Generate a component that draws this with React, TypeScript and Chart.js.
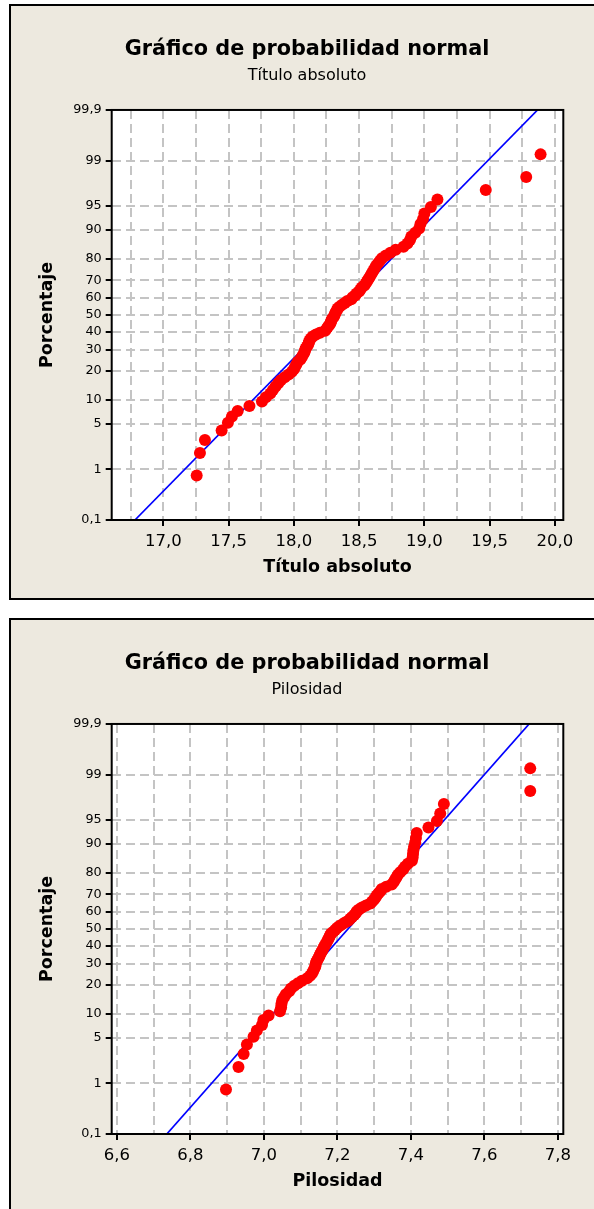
import React, { useEffect, useRef } from 'react';
import { Chart, registerables } from 'chart.js';

Chart.register(...registerables);

// ---------- data ----------
// Percent axis (normal probability scale)
const percentTicks = [0.1, 1, 5, 10, 20, 30, 40, 50, 60, 70, 80, 90, 95, 99, 99.9];
const percentLabels = ['0,1', '1', '5', '10', '20', '30', '40', '50', '60', '70', '80', '90', '95', '99', '99,9'];

// Título absoluto: sorted sample values
const tituloValues = [
  17.256, 17.281, 17.319, 17.447, 17.495, 17.526, 17.57, 17.66, 17.756, 17.786,
  17.82, 17.84, 17.86, 17.88, 17.9, 17.93, 17.96, 17.985, 18.0, 18.01,
  18.02, 18.03, 18.05, 18.06, 18.07, 18.08, 18.085, 18.09, 18.1, 18.11,
  18.115, 18.12, 18.13, 18.145, 18.17, 18.2, 18.24, 18.25, 18.26, 18.27,
  18.28, 18.285, 18.29, 18.3, 18.31, 18.315, 18.32, 18.33, 18.335, 18.35,
  18.37, 18.39, 18.41, 18.44, 18.45, 18.47, 18.48, 18.5, 18.51, 18.52,
  18.54, 18.55, 18.56, 18.57, 18.58, 18.59, 18.6, 18.61, 18.62, 18.63,
  18.645, 18.66, 18.675, 18.705, 18.74, 18.78, 18.84, 18.87, 18.89, 18.9,
  18.93, 18.96, 18.97, 18.99, 19.0, 19.05, 19.1, 19.47, 19.78, 19.89,
];
const tituloXMajor = [17.0, 17.5, 18.0, 18.5, 19.0, 19.5, 20.0];
const tituloXMinor = [16.75, 17.25, 17.75, 18.25, 18.75, 19.25, 19.75];
const tituloXRange = [16.605, 20.064];
const tituloFitX = [16.783, 19.867];

// Pilosidad: sorted sample values
const pilosidadValues = [
  6.897, 6.931, 6.945, 6.954, 6.972, 6.981, 6.995, 6.999, 7.013, 7.044,
  7.047, 7.048, 7.05, 7.055, 7.06, 7.069, 7.074, 7.083, 7.093, 7.104,
  7.118, 7.126, 7.131, 7.134, 7.137, 7.14, 7.141, 7.142, 7.145, 7.148,
  7.151, 7.153, 7.156, 7.159, 7.162, 7.164, 7.167, 7.17, 7.173, 7.175,
  7.178, 7.18, 7.183, 7.189, 7.194, 7.199, 7.205, 7.213, 7.221, 7.23,
  7.235, 7.24, 7.246, 7.25, 7.253, 7.259, 7.267, 7.278, 7.29, 7.295,
  7.3, 7.304, 7.307, 7.312, 7.317, 7.321, 7.333, 7.348, 7.353, 7.357,
  7.361, 7.365, 7.371, 7.379, 7.384, 7.392, 7.403, 7.405, 7.406, 7.407,
  7.409, 7.412, 7.414, 7.416, 7.448, 7.471, 7.48, 7.49, 7.725, 7.725,
];
const pilosidadXMajor = [6.6, 6.8, 7.0, 7.2, 7.4, 7.6, 7.8];
const pilosidadXMinor = [6.7, 6.9, 7.1, 7.3, 7.5, 7.7];
const pilosidadXRange = [6.586, 7.815];
const pilosidadFitX = [6.736, 7.722];

// fitted line is drawn between these percentages
const fitPercents = [0.1, 99.9];

// ---------- helpers ----------
const FONT = "'DejaVu Sans', Verdana, sans-serif";

// inverse standard normal CDF (Acklam) – the probability-paper transform
function normInv(p: number): number {
  const a = [-3.969683028665376e1, 2.209460984245205e2, -2.759285104469687e2, 1.38357751867269e2, -3.066479806614716e1, 2.506628277459239];
  const b = [-5.447609879822406e1, 1.615858368580409e2, -1.556989798598866e2, 6.680131188771972e1, -1.328068155288572e1];
  const c = [-7.784894002430293e-3, -3.223964580411365e-1, -2.400758277161838, -2.549732539343734, 4.374664141464968, 2.938163982698783];
  const d = [7.784695709041462e-3, 3.224671290700398e-1, 2.445134137142996, 3.754408661907416];
  const pl = 0.02425;
  const ph = 1 - pl;
  if (p < pl) {
    const q = Math.sqrt(-2 * Math.log(p));
    return (((((c[0] * q + c[1]) * q + c[2]) * q + c[3]) * q + c[4]) * q + c[5]) / ((((d[0] * q + d[1]) * q + d[2]) * q + d[3]) * q + 1);
  }
  if (p <= ph) {
    const q = p - 0.5;
    const r = q * q;
    return ((((((a[0] * r + a[1]) * r + a[2]) * r + a[3]) * r + a[4]) * r + a[5]) * q) / (((((b[0] * r + b[1]) * r + b[2]) * r + b[3]) * r + b[4]) * r + 1);
  }
  const q = Math.sqrt(-2 * Math.log(1 - p));
  return -(((((c[0] * q + c[1]) * q + c[2]) * q + c[3]) * q + c[4]) * q + c[5]) / ((((d[0] * q + d[1]) * q + d[2]) * q + d[3]) * q + 1);
}

// Minitab median-rank plotting position (percent) of the i-th (0-based) of n sorted values
function plotPercent(i: number, n: number): number {
  return (100 * (i + 1 - 0.3)) / (n + 0.4);
}

const fmt = (v: number) => v.toFixed(1).replace('.', ',');

const framePlugin = {
  id: 'plotFrame',
  beforeDraw(chart: any) {
    const { ctx, chartArea: a } = chart;
    ctx.save();
    ctx.fillStyle = '#ffffff';
    ctx.fillRect(a.left, a.top, a.right - a.left, a.bottom - a.top);
    ctx.restore();
  },
  afterDraw(chart: any) {
    const { ctx, chartArea: a } = chart;
    ctx.save();
    ctx.strokeStyle = '#000000';
    ctx.lineWidth = 2;
    ctx.strokeRect(a.left, a.top, a.right - a.left, a.bottom - a.top);
    ctx.restore();
  },
};

const GRID = '#c4c4c4';
const CW = 592;
const CH = 592;

type PanelProps = {
  top: number;
  subtitle: string;
  xTitle: string;
  values: number[];
  xMajor: number[];
  xMinor: number[];
  xRange: number[];
  fitX: number[];
};

function ProbPanel(props: PanelProps) {
  const ref = useRef<HTMLCanvasElement | null>(null);

  useEffect(() => {
    if (!ref.current) return;
    const { subtitle, xTitle, values, xMajor, xMinor, xRange, fitX } = props;
    const isMajor = (v: number) => xMajor.some((m) => Math.abs(m - v) < 1e-9);
    const n = values.length;
    const yMin = normInv(0.001);
    const yMax = normInv(0.999);

    const chart = new Chart(ref.current, {
      type: 'scatter',
      data: {
        datasets: [
          {
            type: 'line',
            data: fitX.map((x, i) => ({ x, y: normInv(fitPercents[i] / 100) })),
            borderColor: '#0000ff',
            borderWidth: 1.7,
            pointRadius: 0,
            fill: false,
            tension: 0,
            order: 2,
          } as any,
          {
            type: 'scatter',
            data: values.map((x, i) => ({ x, y: normInv(plotPercent(i, n) / 100) })),
            pointRadius: 6,
            pointBackgroundColor: '#ff0000',
            pointBorderWidth: 0,
            borderColor: '#ff0000',
            order: 1,
          } as any,
        ],
      },
      options: {
        responsive: false,
        animation: false,
        events: [],
        layout: { padding: { left: 0, right: 0, top: 0, bottom: 0 } },
        plugins: {
          legend: { display: false },
          tooltip: { enabled: false },
          title: {
            display: true,
            text: 'Gráfico de probabilidad normal',
            color: '#000',
            font: { family: FONT, size: 20.8, weight: 'bold', lineHeight: 1.2 },
            padding: { top: 31.5, bottom: 0 },
          },
          subtitle: {
            display: true,
            text: subtitle,
            color: '#000',
            font: { family: FONT, size: 16, weight: 'normal', lineHeight: 1.2 },
            padding: { top: 4, bottom: 24.3 },
          },
        },
        scales: {
          x: {
            type: 'linear',
            position: 'bottom',
            min: xRange[0],
            max: xRange[1],
            afterBuildTicks: (s: any) => {
              s.ticks = [...xMajor, ...xMinor].sort((a, b) => a - b).map((v) => ({ value: v }));
            },
            afterFit: (s: any) => {
              s.height = 78;
            },
            ticks: {
              autoSkip: false,
              maxRotation: 0,
              minRotation: 0,
              padding: 6,
              color: '#000',
              font: { family: FONT, size: 16.5 },
              callback: (v: any) => (isMajor(Number(v)) ? fmt(Number(v)) : ''),
            },
            grid: {
              color: GRID,
              lineWidth: 2,
              drawTicks: true,
              tickLength: 6,
              tickWidth: 2,
              tickColor: (ctx: any) => (ctx.tick && isMajor(ctx.tick.value) ? '#000' : 'rgba(0,0,0,0)'),
            },
            border: { display: false, dash: [9, 5] },
            title: {
              display: true,
              text: xTitle,
              color: '#000',
              font: { family: FONT, size: 17.5, weight: 'bold' },
              padding: { top: 0, bottom: 20.5 },
            },
          } as any,
          y: {
            type: 'linear',
            position: 'left',
            min: yMin,
            max: yMax,
            afterBuildTicks: (s: any) => {
              s.ticks = percentTicks.map((p) => ({ value: normInv(p / 100) }));
            },
            afterFit: (s: any) => {
              s.width = 100.7;
            },
            ticks: {
              autoSkip: false,
              padding: 4,
              color: '#000',
              font: { family: FONT, size: 12.8 },
              callback: (_v: any, idx: number) => percentLabels[idx],
            },
            grid: {
              color: (ctx: any) =>
                ctx.index === 0 || ctx.index === percentTicks.length - 1 ? 'rgba(0,0,0,0)' : GRID,
              lineWidth: 2,
              drawTicks: true,
              tickLength: 6,
              tickWidth: 2,
              tickColor: '#000',
            },
            border: { display: false, dash: [9, 5] },
            title: {
              display: true,
              text: 'Porcentaje',
              color: '#000',
              font: { family: FONT, size: 17.5, weight: 'bold' },
              padding: { top: 25.5, bottom: 0 },
            },
          } as any,
          yRight: {
            type: 'linear',
            position: 'right',
            display: true,
            afterFit: (s: any) => {
              s.width = 39.7;
            },
            ticks: { display: false },
            grid: { display: false, drawTicks: false },
            border: { display: false },
          } as any,
        },
      },
      plugins: [framePlugin],
    });
    return () => chart.destroy();
  }, []);

  return (
    <div
      style={{
        position: 'absolute',
        left: 9,
        top: props.top,
        width: CW + 4,
        height: CH + 4,
        border: '2px solid #000',
        boxSizing: 'border-box',
        background: '#EDE9DF',
      }}
    >
      <canvas ref={ref} width={CW} height={CH} style={{ display: 'block', width: CW, height: CH }} />
    </div>
  );
}

export default function App() {
  return (
    <div
      style={{
        position: 'fixed',
        left: 0,
        top: 0,
        width: 594,
        height: 1209,
        overflow: 'hidden',
        background: '#ffffff',
      }}
    >
      <ProbPanel
        top={4}
        subtitle="Título absoluto"
        xTitle="Título absoluto"
        values={tituloValues}
        xMajor={tituloXMajor}
        xMinor={tituloXMinor}
        xRange={tituloXRange}
        fitX={tituloFitX}
      />
      <ProbPanel
        top={618}
        subtitle="Pilosidad"
        xTitle="Pilosidad"
        values={pilosidadValues}
        xMajor={pilosidadXMajor}
        xMinor={pilosidadXMinor}
        xRange={pilosidadXRange}
        fitX={pilosidadFitX}
      />
    </div>
  );
}
